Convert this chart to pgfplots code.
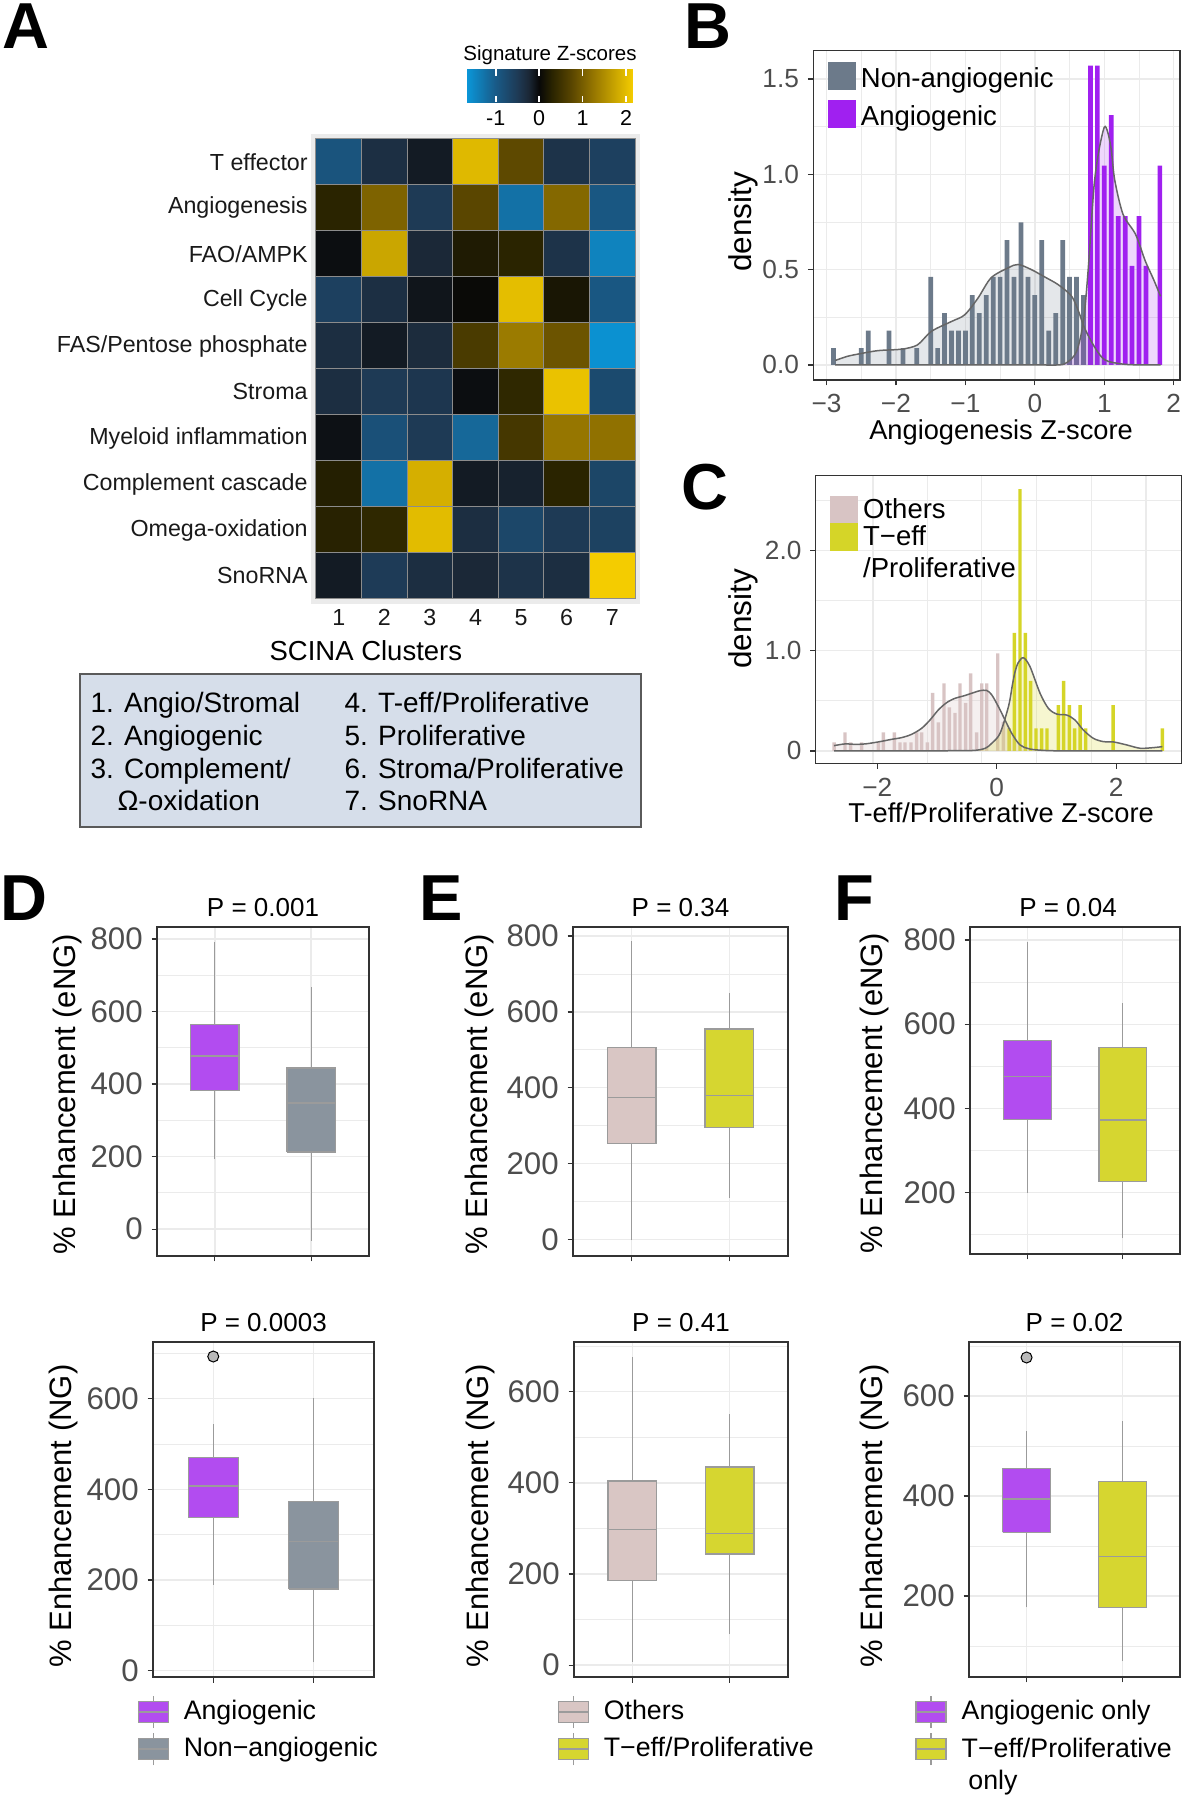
\documentclass[border=0pt]{standalone}
\usepackage{fontspec}
\setmainfont{Liberation Sans}
\usepackage{pgfplots}
\usepackage{pgfplotstable}
\pgfplotsset{compat=1.18}

\definecolor{gridc}{RGB}{235,235,235}
\definecolor{framec}{RGB}{51,51,51}
\definecolor{tickc}{RGB}{77,77,77}
\definecolor{hmbg}{RGB}{235,235,235}
\definecolor{hmline}{RGB}{140,140,140}
\definecolor{slate}{RGB}{108,122,138}
\definecolor{purp}{RGB}{160,32,240}
\definecolor{rose}{RGB}{216,196,196}
\definecolor{teff}{RGB}{213,213,40}
\definecolor{boxpurp}{RGB}{178,76,240}
\definecolor{boxgrey}{RGB}{138,148,158}
\definecolor{boxrose}{RGB}{217,198,196}
\definecolor{boxyel}{RGB}{214,214,48}
\definecolor{boxline}{RGB}{155,155,155}
\definecolor{denline}{RGB}{102,102,102}
\definecolor{legfill}{RGB}{214,222,234}
\definecolor{legdraw}{RGB}{90,90,90}

\pgfplotstableread{
x y z
1 1 -0.90
2 1 -0.35
3 1 -0.15
4 1 1.95
5 1 0.78
6 1 -0.40
7 1 -0.60
1 2 0.30
2 2 1.05
3 2 -0.50
4 2 0.75
5 2 -1.25
6 2 1.10
7 2 -0.95
1 3 -0.05
2 3 1.75
3 3 -0.25
4 3 0.20
5 3 0.30
6 3 -0.40
7 3 -1.45
1 4 -0.60
2 4 -0.35
3 4 -0.10
4 4 0.02
5 4 2.00
6 4 0.15
7 4 -0.95
1 5 -0.33
2 5 -0.15
3 5 -0.30
4 5 0.60
5 5 1.30
6 5 0.90
7 5 -1.60
1 6 -0.33
2 6 -0.50
3 6 -0.45
4 6 -0.05
5 6 0.35
6 6 2.05
7 6 -0.75
1 7 -0.07
2 7 -0.85
3 7 -0.50
4 7 -1.15
5 7 0.55
6 7 1.25
7 7 1.20
1 8 0.25
2 8 -1.25
3 8 1.85
4 8 -0.15
5 8 -0.20
6 8 0.30
7 8 -0.68
1 9 0.28
2 9 0.35
3 9 1.98
4 9 -0.33
5 9 -0.70
6 9 -0.50
7 9 -0.62
1 10 -0.15
2 10 -0.52
3 10 -0.33
4 10 -0.25
5 10 -0.40
6 10 -0.33
7 10 2.15
}\hmdata

\pgfplotsset{
  ggbase/.style={
    scale only axis,
    axis line style={framec, line width=0.5pt},
    grid=both,
    major grid style={gridc, line width=0.55pt},
    minor grid style={gridc, line width=0.35pt},
    tick align=outside,
    major tick length=2.2pt,
    minor tick length=0pt,
    tick style={framec, line width=0.5pt},
    tick pos=left,
    tick label style={text=tickc},
    /pgf/number format/assume math mode=true,
    title style={font=\fontsize{10.4}{12}\selectfont, anchor=base, yshift=-1.7pt},
  },
  boxax/.style={ggbase,
    xmin=0.4, xmax=2.6, xtick={1,2}, xticklabels={,,},
    ytick={0,200,400,600,800}, minor ytick={100,300,500,700},
    yticklabel style={font=\fontsize{12.5}{14}\selectfont},
    ylabel style={font=\fontsize{12.4}{14}\selectfont, anchor=center},
  },
  whisk/.style={boxline, line width=0.5pt, forget plot, unbounded coords=jump},
  med/.style={boxline, line width=0.6pt, forget plot},
  outl/.style={only marks, mark=*, mark size=2.2pt, mark options={fill=gray!55, draw=none}, forget plot},
  boxkey/.style 2 args={legend image code/.code={
    \begin{scope}[yshift=#2]
    \draw[boxline, line width=0.5pt] (6pt,-6.4pt) -- (6pt,6.4pt);
    \draw[fill=#1, draw=boxline, line width=0.5pt] (0pt,-4.2pt) rectangle (12pt,4.2pt);
    \draw[boxline, line width=0.5pt] (0pt,0pt) -- (12pt,0pt);
    \end{scope}}},
  sqkey/.style 2 args={legend image code/.code={
    \begin{scope}[yshift=#2]
    \fill[#1] (0pt,-5.6pt) rectangle (11.2pt,5.6pt);
    \end{scope}}},
  boxleg/.style={legend style={at={(axis description cs:#1,-0.0537)}, anchor=north west, draw=none, fill=none, inner sep=0pt, row sep=1.5pt, font=\fontsize{10.7}{12.8}\selectfont, cells={align=left}, /tikz/every odd column/.append style={column sep=4pt}}, legend cell align=left},
}

\begin{document}
\begin{tikzpicture}
\path[use as bounding box] (0pt,0pt) rectangle (474pt,720pt);

% panel letters
\node[anchor=north west, inner sep=0pt, font=\fontsize{26}{30}\selectfont\bfseries] at (0.8pt,718.8pt) {A};
\node[anchor=north west, inner sep=0pt, font=\fontsize{26}{30}\selectfont\bfseries] at (273.6pt,718.8pt) {B};
\node[anchor=north west, inner sep=0pt, font=\fontsize{26}{30}\selectfont\bfseries] at (272.4pt,534.4pt) {C};
\node[anchor=north west, inner sep=0pt, font=\fontsize{26}{30}\selectfont\bfseries] at (0pt,370pt) {D};
\node[anchor=north west, inner sep=0pt, font=\fontsize{26}{30}\selectfont\bfseries] at (167.6pt,370pt) {E};
\node[anchor=north west, inner sep=0pt, font=\fontsize{26}{30}\selectfont\bfseries] at (333.6pt,370pt) {F};

% ---------------- A: heatmap ----------------
\begin{axis}[
  at={(124.56pt,478.56pt)}, anchor=south west,
  scale only axis, width=131.28pt, height=187.68pt,
  xmin=0.4, xmax=7.6, ymin=0.4, ymax=10.6, y dir=reverse,
  axis background/.style={fill=hmbg},
  axis line style={draw=none},
  tick style={draw=none}, major tick length=0pt,
  xtick={1,2,3,4,5,6,7}, xticklabels={1,2,3,4,5,6,7},
  ytick={1,2,3,4,5,6,7,8,9,10},
  yticklabels={T effector,Angiogenesis,FAO/AMPK,Cell Cycle,FAS/Pentose phosphate,Stroma,Myeloid inflammation,Complement cascade,Omega-oxidation,SnoRNA},
  tick label style={font=\fontsize{9.3}{11}\selectfont, text=black!90},
  yticklabel style={inner sep=0pt, xshift=-1.3pt},
  xticklabel style={inner sep=0pt, yshift=-2pt},
  xlabel={SCINA Clusters},
  xlabel style={font=\fontsize{11}{13}\selectfont, at={(axis description cs:0.166,0)}, anchor=center, yshift=-19pt},
  colormap={hm}{rgb255(0pt)=(10,150,216) rgb255(66pt)=(25,90,135) rgb255(116pt)=(30,58,85) rgb255(141pt)=(27,40,55) rgb255(166pt)=(8,8,8) rgb255(196pt)=(42,36,0) rgb255(241pt)=(90,70,0) rgb255(291pt)=(150,118,0) rgb255(382pt)=(245,205,0)},
  point meta min=-1.66, point meta max=2.16,
  colorbar horizontal,
  colorbar style={
    at={(parent axis.north east)}, anchor=south east,
    xshift=-2.64pt, yshift=21.4pt,
    scale only axis, width=66.4pt, height=13.2pt,
    xtick={-1,0,1,2}, xticklabels={-1,0,1,2},
    xticklabel pos=lower, xtick pos=both,
    tick align=inside, major tick length=2.6pt,
    xtick style={draw=white, line width=0.7pt},
    axis line style={draw=none},
    axis on top,
    xticklabel style={font=\fontsize{8.6}{10}\selectfont, inner sep=0pt, yshift=-3.2pt, text=black},
    title={Signature Z-scores},
    title style={font=\fontsize{8.2}{10}\selectfont, at={(axis description cs:0.5,1)}, anchor=base, yshift=-2.6pt},
  },
]
\addplot[matrix plot*, mesh/cols=7, mesh/rows=10, point meta=explicit, draw=hmline, line width=0.4pt] table[x=x, y=y, meta=z] {\hmdata};
\end{axis}

% legend box of A
\draw[fill=legfill, draw=legdraw, line width=0.5pt] (32pt,450.4pt) rectangle (256.4pt,389.2pt);
\begin{scope}[every node/.style={anchor=base west, inner sep=0pt, font=\fontsize{11.2}{13}\selectfont}]
\node at (36pt,434.8pt) {1. Angio/Stromal};
\node at (36pt,421.6pt) {2. Angiogenic};
\node at (36pt,408.4pt) {3. Complement/};
\node at (46.8pt,395.6pt) {Ω-oxidation};
\node at (137.6pt,434.8pt) {4. T-eff/Proliferative};
\node at (137.6pt,421.6pt) {5. Proliferative};
\node at (137.6pt,408.4pt) {6. Stroma/Proliferative};
\node at (137.6pt,395.6pt) {7. SnoRNA};
\end{scope}

% ---------------- B ----------------
\begin{axis}[ggbase,
  at={(325.32pt,568.04pt)}, anchor=south west, width=146.68pt, height=131.68pt,
  xmin=-3.19, xmax=2.09, ymin=-0.0785, ymax=1.6485,
  xtick={-3,-2,-1,0,1,2}, xticklabels={−3,−2,−1,0,1,2},
  minor xtick={-2.5,-1.5,-0.5,0.5,1.5},
  ytick={0,0.5,1,1.5}, yticklabels={0.0,0.5,1.0,1.5},
  minor ytick={0.25,0.75,1.25},
  tick label style={font=\fontsize{10.5}{12}\selectfont},
  xlabel={Angiogenesis Z-score}, ylabel={density},
  xlabel style={font=\fontsize{10.9}{13}\selectfont, at={(axis description cs:0.512,0)}, anchor=center, yshift=-21.2pt},
  ylabel style={font=\fontsize{12.6}{14}\selectfont, at={(axis description cs:-0.19,0.48)}, anchor=center},
  legend style={at={(axis description cs:0.0385,0.966)}, anchor=north west, draw=none, fill=none, inner sep=0pt, row sep=1.5pt, font=\fontsize{11}{13}\selectfont, /tikz/every odd column/.append style={column sep=0pt}},
  legend cell align=left,
]
\addplot[ybar, bar width=0.068, bar shift=0pt, fill=slate, draw=none, sqkey={slate}{1.2pt}] coordinates {
(-2.9,0.088) (-2.5,0.088) (-2.4,0.18) (-2.1,0.18) (-1.9,0.088) (-1.7,0.088) (-1.5,0.462) (-1.4,0.088) (-1.3,0.272) (-1.2,0.18) (-1.1,0.18) (-1.0,0.18) (-0.9,0.366) (-0.8,0.272) (-0.7,0.366) (-0.6,0.462) (-0.5,0.462) (-0.4,0.655) (-0.3,0.462) (-0.2,0.748) (-0.1,0.462) (0.0,0.366) (0.1,0.655) (0.2,0.18) (0.3,0.272) (0.4,0.655) (0.5,0.462) (0.6,0.462) (0.7,0.366)};
\addlegendentry{Non-angiogenic}
\addplot[ybar, bar width=0.068, bar shift=0pt, fill=purp, draw=none, sqkey={purp}{1.2pt}] coordinates {
(0.8,1.57) (0.9,1.57) (1.0,1.045) (1.1,1.31) (1.2,0.78) (1.3,0.78) (1.4,0.52) (1.5,0.78) (1.6,0.52) (1.8,1.045)};
\addlegendentry{Angiogenic}
\addplot[fill=slate, fill opacity=0.18, draw=none, smooth, tension=0.5, forget plot] coordinates {
(-2.875,0.023) (-2.7,0.045) (-2.5,0.06) (-2.26,0.075) (-2.0,0.08) (-1.9,0.083) (-1.69,0.105) (-1.49,0.176) (-1.2,0.228) (-1.01,0.263) (-0.82,0.35) (-0.63,0.457) (-0.38,0.51) (-0.24,0.527) (-0.05,0.50) (0.15,0.46) (0.34,0.42) (0.53,0.36) (0.63,0.28) (0.72,0.19) (0.87,0.088) (1.01,0.026) (1.25,0.005) (1.5,0.0) (1.81,0.0)} \closedcycle;
\addplot[fill=purp, fill opacity=0.18, draw=none, smooth, tension=0.5, forget plot] coordinates {
(-2.875,0) (-1.0,0) (0.0,0) (0.34,0.0) (0.46,0.012) (0.60,0.07) (0.70,0.23) (0.77,0.51) (0.85,0.93) (0.92,1.12) (1.00,1.247) (1.05,1.22) (1.10,1.13) (1.15,0.97) (1.27,0.79) (1.45,0.685) (1.59,0.545) (1.71,0.448) (1.81,0.36)} \closedcycle;
\addplot[denline, line width=0.6pt, smooth, tension=0.5, forget plot] coordinates {
(-2.875,0.023) (-2.7,0.045) (-2.5,0.06) (-2.26,0.075) (-2.0,0.08) (-1.9,0.083) (-1.69,0.105) (-1.49,0.176) (-1.2,0.228) (-1.01,0.263) (-0.82,0.35) (-0.63,0.457) (-0.38,0.51) (-0.24,0.527) (-0.05,0.50) (0.15,0.46) (0.34,0.42) (0.53,0.36) (0.63,0.28) (0.72,0.19) (0.87,0.088) (1.01,0.026) (1.25,0.005) (1.5,0.0) (1.81,0.0)};
\addplot[denline, line width=0.6pt, smooth, tension=0.5, forget plot] coordinates {
(-2.875,0) (-1.0,0) (0.0,0) (0.34,0.0) (0.46,0.012) (0.60,0.07) (0.70,0.23) (0.77,0.51) (0.85,0.93) (0.92,1.12) (1.00,1.247) (1.05,1.22) (1.10,1.13) (1.15,0.97) (1.27,0.79) (1.45,0.685) (1.59,0.545) (1.71,0.448) (1.81,0.36)};
\end{axis}

% ---------------- C ----------------
\begin{axis}[ggbase,
  at={(326.32pt,414.6pt)}, anchor=south west, width=146.16pt, height=115.12pt,
  xmin=-3.03, xmax=3.09, ymin=-0.125, ymax=2.745,
  xmajorgrids=false, xminorgrids=false,
  xtick={-2,0,2}, xticklabels={−2,0,2},
  extra x ticks={-2.07,-1.16,-0.25,0.67,1.59,2.50}, extra x tick labels={},
  extra x tick style={xmajorgrids=true, major tick length=0pt},
  ytick={0,1,2}, yticklabels={0,1.0,2.0},
  minor ytick={0.5,1.5,2.5},
  tick label style={font=\fontsize{10.5}{12}\selectfont},
  xlabel={T-eff/Proliferative Z-score}, ylabel={density},
  xlabel style={font=\fontsize{10.9}{13}\selectfont, at={(axis description cs:0.507,0)}, anchor=center, yshift=-19.8pt},
  ylabel style={font=\fontsize{12.6}{14}\selectfont, at={(axis description cs:-0.198,0.502)}, anchor=center},
  legend style={at={(axis description cs:0.038,0.940)}, anchor=north west, draw=none, fill=none, inner sep=0pt, row sep=-2.7pt, font=\fontsize{11}{13}\selectfont, cells={align=left}, /tikz/every odd column/.append style={column sep=0pt}},
  legend cell align=left,
]
\addplot[ybar, bar width=0.058, bar shift=0pt, fill=rose, draw=none, sqkey={rose}{0pt}] coordinates {
(-2.725,0.086) (-2.541,0.186) (-2.446,0.086) (-2.262,0.086) (-1.983,0.086) (-1.899,0.186) (-1.715,0.186) (-1.620,0.086) (-1.536,0.086) (-1.436,0.086) (-1.341,0.186) (-1.257,0.186) (-1.162,0.086) (-1.073,0.58) (-0.978,0.286) (-0.883,0.674) (-0.794,0.435) (-0.699,0.38) (-0.615,0.674) (-0.520,0.48) (-0.436,0.774) (-0.335,0.186) (-0.251,0.674) (-0.167,0.674) (0.017,0.973) (0.111,0.29)};
\addlegendentry{Others}
\addplot[ybar, bar width=0.058, bar shift=0pt, fill=teff, draw=none, sqkey={teff}{6.4pt}] coordinates {
(0.206,0.226) (0.295,1.178) (0.39,2.61) (0.479,1.178) (0.568,0.70) (0.658,0.226) (0.753,0.226) (0.842,0.226) (1.032,0.458) (1.122,0.70) (1.217,0.458) (1.306,0.226) (1.396,0.458) (1.491,0.226) (1.949,0.458) (2.774,0.226)};
\addlegendentry{T−eff\\/Proliferative}
\addplot[fill=rose, fill opacity=0.25, draw=none, smooth, tension=0.5, forget plot] coordinates {
(-2.725,0.053) (-2.541,0.070) (-2.374,0.066) (-2.206,0.070) (-1.983,0.090) (-1.760,0.116) (-1.592,0.133) (-1.425,0.166) (-1.257,0.226) (-1.117,0.309) (-0.978,0.409) (-0.838,0.482) (-0.699,0.525) (-0.559,0.548) (-0.419,0.575) (-0.280,0.601) (-0.168,0.603) (-0.084,0.56) (0.028,0.442) (0.139,0.309) (0.251,0.176) (0.39,0.06) (0.55,0.02) (0.8,0.005) (1.2,0) (2.0,0) (2.774,0)} \closedcycle;
\addplot[fill=teff, fill opacity=0.22, draw=none, smooth, tension=0.5, forget plot] coordinates {
(-2.725,0) (-1.5,0) (-0.6,0.003) (-0.36,0.006) (-0.19,0.027) (-0.084,0.076) (0.056,0.176) (0.2,0.45) (0.26,0.65) (0.307,0.79) (0.36,0.88) (0.447,0.93) (0.558,0.84) (0.726,0.575) (0.865,0.425) (1.005,0.368) (1.172,0.358) (1.31,0.309) (1.45,0.209) (1.618,0.126) (1.786,0.093) (1.953,0.09) (2.177,0.06) (2.4,0.027) (2.62,0.033) (2.774,0.043)} \closedcycle;
\addplot[denline, line width=0.6pt, smooth, tension=0.5, forget plot] coordinates {
(-2.725,0.053) (-2.541,0.070) (-2.374,0.066) (-2.206,0.070) (-1.983,0.090) (-1.760,0.116) (-1.592,0.133) (-1.425,0.166) (-1.257,0.226) (-1.117,0.309) (-0.978,0.409) (-0.838,0.482) (-0.699,0.525) (-0.559,0.548) (-0.419,0.575) (-0.280,0.601) (-0.168,0.603) (-0.084,0.56) (0.028,0.442) (0.139,0.309) (0.251,0.176) (0.39,0.06) (0.55,0.02) (0.8,0.005) (1.2,0) (2.0,0) (2.774,0)};
\addplot[denline, line width=0.6pt, smooth, tension=0.5, forget plot] coordinates {
(-2.725,0) (-1.5,0) (-0.6,0.003) (-0.36,0.006) (-0.19,0.027) (-0.084,0.076) (0.056,0.176) (0.2,0.45) (0.26,0.65) (0.307,0.79) (0.36,0.88) (0.447,0.93) (0.558,0.84) (0.726,0.575) (0.865,0.425) (1.005,0.368) (1.172,0.358) (1.31,0.309) (1.45,0.209) (1.618,0.126) (1.786,0.093) (1.953,0.09) (2.177,0.06) (2.4,0.027) (2.62,0.033) (2.774,0.043)};
\end{axis}

% ---------------- D top ----------------
\begin{axis}[boxax, at={(62.8pt,217.6pt)}, anchor=south west, width=84.8pt, height=131.6pt,
  ymin=-74, ymax=833, title={P = 0.001}, ylabel={\% Enhancement (eNG)},
  ylabel style={at={(axis description cs:-0.4245,0.492)}}]
\addplot[whisk] coordinates {(1,193) (1,381.5) (1,nan) (1,563.6) (1,792)};
\addplot[fill=boxpurp, draw=boxline, line width=0.5pt] coordinates {(0.75,381.5) (1.25,381.5) (1.25,563.6) (0.75,563.6) (0.75,381.5)};
\addplot[med] coordinates {(0.75,477) (1.25,477)};
\addplot[whisk] coordinates {(2,-32) (2,213) (2,nan) (2,444) (2,668)};
\addplot[fill=boxgrey, draw=boxline, line width=0.5pt] coordinates {(1.75,213) (2.25,213) (2.25,444) (1.75,444) (1.75,213)};
\addplot[med] coordinates {(1.75,348) (2.25,348)};
\end{axis}

% ---------------- E top ----------------
\begin{axis}[boxax, at={(229.2pt,217.6pt)}, anchor=south west, width=86pt, height=131.6pt,
  ymin=-44, ymax=824, title={P = 0.34}, ylabel={\% Enhancement (eNG)},
  ylabel style={at={(axis description cs:-0.437,0.492)}}]
\addplot[whisk] coordinates {(1,-2) (1,253) (1,nan) (1,506) (1,787)};
\addplot[fill=boxrose, draw=boxline, line width=0.5pt] coordinates {(0.75,253) (1.25,253) (1.25,506) (0.75,506) (0.75,253)};
\addplot[med] coordinates {(0.75,374) (1.25,374)};
\addplot[whisk] coordinates {(2,110) (2,295) (2,nan) (2,555) (2,649)};
\addplot[fill=boxyel, draw=boxline, line width=0.5pt] coordinates {(1.75,295) (2.25,295) (2.25,555) (1.75,555) (1.75,295)};
\addplot[med] coordinates {(1.75,380) (2.25,380)};
\end{axis}

% ---------------- F top ----------------
\begin{axis}[boxax, at={(388pt,218.4pt)}, anchor=south west, width=84pt, height=130.8pt,
  ymin=54, ymax=831, title={P = 0.04}, ylabel={\% Enhancement (eNG)},
  title style={at={(axis description cs:0.467,1)}},
  ylabel style={at={(axis description cs:-0.457,0.492)}}]
\addplot[whisk] coordinates {(1,200) (1,373) (1,nan) (1,562) (1,796)};
\addplot[fill=boxpurp, draw=boxline, line width=0.5pt] coordinates {(0.75,373) (1.25,373) (1.25,562) (0.75,562) (0.75,373)};
\addplot[med] coordinates {(0.75,476) (1.25,476)};
\addplot[whisk] coordinates {(2,92) (2,226) (2,nan) (2,545) (2,651)};
\addplot[fill=boxyel, draw=boxline, line width=0.5pt] coordinates {(1.75,226) (2.25,226) (2.25,545) (1.75,545) (1.75,226)};
\addplot[med] coordinates {(1.75,372) (2.25,372)};
\end{axis}

% ---------------- D bottom ----------------
\begin{axis}[boxax, boxleg=-0.0724, at={(61.2pt,49.2pt)}, anchor=south west, width=88.4pt, height=134pt,
  ymin=-14, ymax=725, title={P = 0.0003}, ylabel={\% Enhancement (NG)},
  ylabel style={at={(axis description cs:-0.407,0.48)}}]
\addplot[whisk] coordinates {(1,189) (1,338) (1,nan) (1,470) (1,544)};
\addplot[fill=boxpurp, draw=boxline, line width=0.5pt, boxkey={boxpurp}{0pt}] coordinates {(0.75,338) (1.25,338) (1.25,470) (0.75,470) (0.75,338)};
\addlegendentry{Angiogenic}
\addplot[med] coordinates {(0.75,407) (1.25,407)};
\addplot[outl] coordinates {(1,693)};
\addplot[whisk] coordinates {(2,18) (2,180) (2,nan) (2,373) (2,602)};
\addplot[fill=boxgrey, draw=boxline, line width=0.5pt, boxkey={boxgrey}{0pt}] coordinates {(1.75,180) (2.25,180) (2.25,373) (1.75,373) (1.75,180)};
\addlegendentry{Non−angiogenic}
\addplot[med] coordinates {(1.75,285) (2.25,285)};
\end{axis}

% ---------------- E bottom ----------------
\begin{axis}[boxax, boxleg=-0.079, at={(229.6pt,49.2pt)}, anchor=south west, width=85.6pt, height=134pt,
  ymin=-26, ymax=709, title={P = 0.41}, ylabel={\% Enhancement (NG)},
  ylabel style={at={(axis description cs:-0.435,0.48)}}]
\addplot[whisk] coordinates {(1,7) (1,185) (1,nan) (1,404) (1,676)};
\addplot[fill=boxrose, draw=boxline, line width=0.5pt, boxkey={boxrose}{0pt}] coordinates {(0.75,185) (1.25,185) (1.25,404) (0.75,404) (0.75,185)};
\addlegendentry{Others}
\addplot[med] coordinates {(0.75,298) (1.25,298)};
\addplot[whisk] coordinates {(2,68) (2,244) (2,nan) (2,435) (2,550)};
\addplot[fill=boxyel, draw=boxline, line width=0.5pt, boxkey={boxyel}{0pt}] coordinates {(1.75,244) (2.25,244) (2.25,435) (1.75,435) (1.75,244)};
\addlegendentry{T−eff/Proliferative}
\addplot[med] coordinates {(1.75,289) (2.25,289)};
\end{axis}

% ---------------- F bottom ----------------
\begin{axis}[boxax, boxleg=-0.256, at={(387.6pt,49.2pt)}, anchor=south west, width=84.4pt, height=134pt,
  ymin=38, ymax=708, title={P = 0.02}, ylabel={\% Enhancement (NG)},
  ylabel style={at={(axis description cs:-0.450,0.48)}}]
\addplot[whisk] coordinates {(1,177) (1,327) (1,nan) (1,455) (1,529)};
\addplot[fill=boxpurp, draw=boxline, line width=0.5pt, boxkey={boxpurp}{0pt}] coordinates {(0.75,327) (1.25,327) (1.25,455) (0.75,455) (0.75,327)};
\addlegendentry{Angiogenic only}
\addplot[med] coordinates {(0.75,394) (1.25,394)};
\addplot[outl] coordinates {(1,677)};
\addplot[whisk] coordinates {(2,69) (2,177) (2,nan) (2,429) (2,550)};
\addplot[fill=boxyel, draw=boxline, line width=0.5pt, boxkey={boxyel}{6.6pt}] coordinates {(1.75,177) (2.25,177) (2.25,429) (1.75,429) (1.75,177)};
\addlegendentry{T−eff/Proliferative\\\hspace*{0.25em}only}
\addplot[med] coordinates {(1.75,279) (2.25,279)};
\end{axis}

\end{tikzpicture}
\end{document}
